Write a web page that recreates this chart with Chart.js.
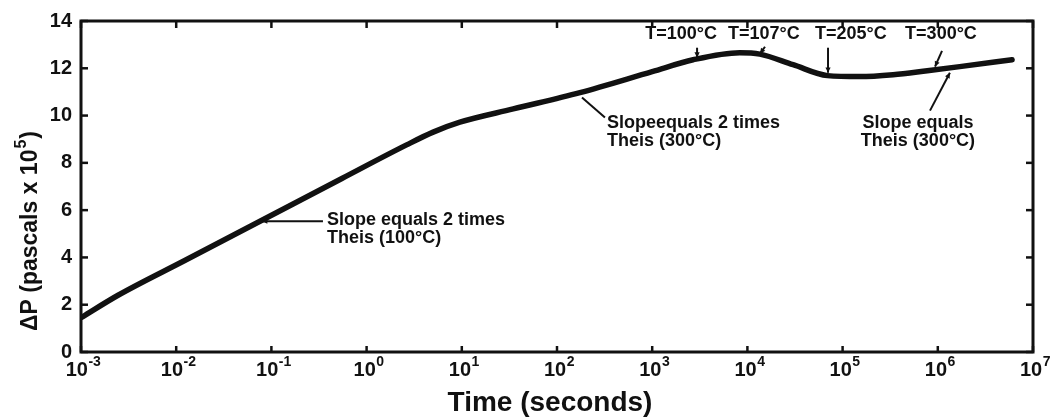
<!DOCTYPE html>
<html>
<head>
<meta charset="utf-8">
<script src="https://cdn.jsdelivr.net/npm/chart.js@4.4.1/dist/chart.umd.min.js"></script>
<style>
  html, body { margin: 0; padding: 0; background: #fff; }
  #wrap { width: 1050px; height: 420px; }
</style>
</head>
<body>
<div id="wrap"><canvas id="chart" width="1050" height="420"></canvas></div>
<script>
// Pressure build-up vs time (log time axis)
const timeSec = [0.001, 0.00245, 0.0123, 0.0759, 0.55, 2.63, 5.0, 9.55, 34.7, 174,
                 1000, 2690, 8300, 13500, 30200, 69200, 151000, 339000, 776000, 1700000, 6030000];
const deltaP = [1.45, 2.40, 3.87, 5.53, 7.34, 8.76, 9.30, 9.72, 10.28, 10.97,
                11.86, 12.36, 12.66, 12.60, 12.15, 11.69, 11.65, 11.73, 11.90, 12.07, 12.36];

const xDecades = [1e-3, 1e-2, 1e-1, 1e0, 1e1, 1e2, 1e3, 1e4, 1e5, 1e6, 1e7];
const xExponents = ['-3', '-2', '-1', '0', '1', '2', '3', '4', '5', '6', '7'];
const yTicks = [0, 2, 4, 6, 8, 10, 12, 14];

// callouts: text anchor, leader line (from -> to, in data units)
const slopeNotes = [
  { lines: ['Slope equals 2 times', 'Theis (100°C)'], at: [0.384, 5.57], align: 'left',
    from: [0.348, 5.53], to: [0.0796, 5.53], head: true },
  { lines: ['Slopeequals 2 times', 'Theis (300°C)'], at: [335, 9.70], align: 'left',
    from: [319, 9.92], to: [183, 10.76], head: false },
  { lines: ['Slope equals', 'Theis (300°C)'], at: [619000, 9.70], align: 'center',
    from: [828000, 10.21], to: [1340000, 11.81], head: true }
];
const tempNotes = [
  { text: 'T=100°C', at: [2010, 13.46], from: [2960, 12.87], to: [2960, 12.45] },
  { text: 'T=107°C', at: [14900, 13.46], from: [15300, 12.91], to: [13550, 12.62] },
  { text: 'T=205°C', at: [122000, 13.46], from: [70300, 12.87], to: [70300, 11.81] },
  { text: 'T=300°C', at: [1080000, 13.46], from: [1107000, 12.74], to: [935000, 12.07] }
];

const ink = '#111';
const face = '"Liberation Sans", Arial, sans-serif';

function arrow(ctx, x1, y1, x2, y2, head) {
  ctx.beginPath();
  ctx.moveTo(x1, y1);
  ctx.lineTo(x2, y2);
  ctx.stroke();
  if (!head) return;
  const ang = Math.atan2(y2 - y1, x2 - x1);
  const len = 6;
  ctx.beginPath();
  ctx.moveTo(x2, y2);
  ctx.lineTo(x2 - len * Math.cos(ang - 0.45), y2 - len * Math.sin(ang - 0.45));
  ctx.lineTo(x2 - len * Math.cos(ang + 0.45), y2 - len * Math.sin(ang + 0.45));
  ctx.closePath();
  ctx.fill();
}

const framePlugin = {
  id: 'frame',
  afterDraw(chart) {
    const { ctx, chartArea: a } = chart;
    const x = chart.scales.x, y = chart.scales.y;
    ctx.save();
    ctx.strokeStyle = ink;
    ctx.fillStyle = ink;

    // box
    ctx.lineWidth = 3;
    ctx.strokeRect(a.left, a.top, a.right - a.left, a.bottom - a.top);

    // inward ticks on all four sides
    ctx.lineWidth = 2.5;
    xDecades.forEach(v => {
      const px = x.getPixelForValue(v);
      arrow(ctx, px, a.bottom, px, a.bottom - 6, false);
      arrow(ctx, px, a.top, px, a.top + 7, false);
    });
    yTicks.forEach(v => {
      const py = y.getPixelForValue(v);
      arrow(ctx, a.left, py, a.left + 7, py, false);
      arrow(ctx, a.right, py, a.right - 7, py, false);
    });

    // x tick labels: 10 with raised exponent
    ctx.textBaseline = 'alphabetic';
    xDecades.forEach((v, i) => {
      const px = x.getPixelForValue(v);
      ctx.font = 'bold 20px ' + face;
      const wBase = ctx.measureText('10').width;
      ctx.font = 'bold 14px ' + face;
      const wExp = ctx.measureText(xExponents[i]).width;
      const left = px - (wBase + wExp) / 2 + 2;
      ctx.font = 'bold 20px ' + face;
      ctx.textAlign = 'left';
      ctx.fillText('10', left, a.bottom + 24);
      ctx.font = 'bold 14px ' + face;
      ctx.fillText(xExponents[i], left + wBase + 0.5, a.bottom + 14);
    });

    // axis titles
    ctx.textAlign = 'center';
    ctx.textBaseline = 'middle';
    ctx.font = 'bold 28px ' + face;
    ctx.fillText('Time (seconds)', 550, 403);

    ctx.save();
    ctx.translate(31, 231);
    ctx.rotate(-Math.PI / 2);
    ctx.font = 'bold 23px ' + face;
    const t1 = 'ΔP (pascals x 10';
    const w1 = ctx.measureText(t1).width;
    ctx.font = 'bold 16px ' + face;
    const w2 = ctx.measureText('5').width;
    ctx.font = 'bold 23px ' + face;
    const w3 = ctx.measureText(')').width;
    const start = -(w1 + w2 + w3 + 2) / 2;
    ctx.textAlign = 'left';
    ctx.fillText(t1, start, 0);
    ctx.font = 'bold 16px ' + face;
    ctx.fillText('5', start + w1 + 1, -9);
    ctx.font = 'bold 23px ' + face;
    ctx.fillText(')', start + w1 + w2 + 2, 0);
    ctx.restore();

    // callouts
    ctx.lineWidth = 2;
    ctx.font = 'bold 18px ' + face;
    slopeNotes.forEach(n => {
      const tx = x.getPixelForValue(n.at[0]);
      const ty = y.getPixelForValue(n.at[1]);
      ctx.textAlign = n.align;
      n.lines.forEach((s, k) => ctx.fillText(s, tx, ty + k * 18));
      arrow(ctx, x.getPixelForValue(n.from[0]), y.getPixelForValue(n.from[1]),
            x.getPixelForValue(n.to[0]), y.getPixelForValue(n.to[1]), n.head);
    });
    ctx.textAlign = 'center';
    ctx.font = 'bold 18px ' + face;
    tempNotes.forEach(n => {
      ctx.fillText(n.text, x.getPixelForValue(n.at[0]), y.getPixelForValue(n.at[1]));
      arrow(ctx, x.getPixelForValue(n.from[0]), y.getPixelForValue(n.from[1]),
            x.getPixelForValue(n.to[0]), y.getPixelForValue(n.to[1]), true);
    });
    ctx.restore();
  }
};

new Chart(document.getElementById('chart').getContext('2d'), {
  type: 'line',
  data: {
    datasets: [{
      data: timeSec.map((t, i) => ({ x: t, y: deltaP[i] })),
      borderColor: ink,
      borderWidth: 5.5,
      pointRadius: 0,
      fill: false,
      cubicInterpolationMode: 'monotone',
      borderCapStyle: 'round'
    }]
  },
  options: {
    responsive: false,
    animation: false,
    devicePixelRatio: 1,
    layout: { padding: { top: 18, right: 17, left: 0, bottom: 0 } },
    plugins: {
      legend: { display: false },
      tooltip: { enabled: false }
    },
    scales: {
      x: {
        type: 'logarithmic',
        min: 1e-3,
        max: 1e7,
        grid: { display: false, drawTicks: false },
        border: { display: false },
        ticks: { display: false },
        afterFit(scale) { scale.height = 68; }
      },
      y: {
        min: 0,
        max: 14,
        grid: { display: false, drawTicks: false },
        border: { display: false },
        ticks: {
          stepSize: 2,
          padding: 9,
          color: ink,
          font: { family: face, size: 20, weight: 'bold' }
        },
        afterFit(scale) { scale.width = 81; }
      }
    }
  },
  plugins: [framePlugin]
});
</script>
</body>
</html>
